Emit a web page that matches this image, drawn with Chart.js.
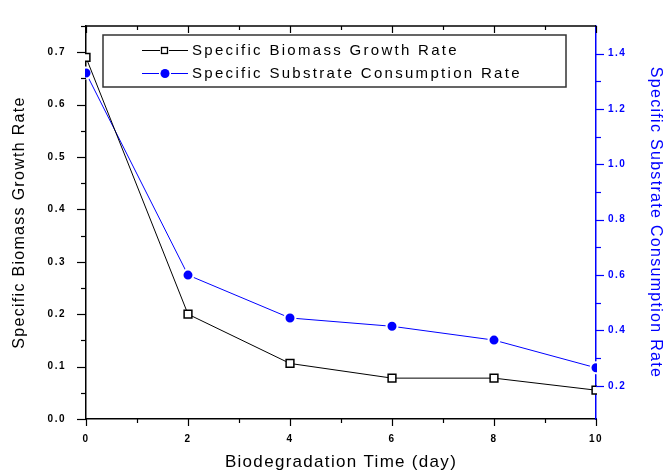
<!DOCTYPE html>
<html>
<head>
<meta charset="utf-8">
<script src="https://cdn.jsdelivr.net/npm/chart.js@4.4.1/dist/chart.umd.min.js"></script>
<style>
  html, body { margin: 0; padding: 0; background: #fff; }
  canvas { display: block; }
</style>
</head>
<body>
<canvas id="chart" width="664" height="471"></canvas>
<script>
// data
const DAYS = [0, 2, 4, 6, 8, 10];
const BIOMASS_RATE = [0.69, 0.20, 0.106, 0.078, 0.078, 0.055];
const SUBSTRATE_RATE = [1.33, 0.60, 0.445, 0.415, 0.365, 0.265];

// tick labels
const DAY_LABELS = ['0', '2', '4', '6', '8', '10'];
const LEFT_LABELS = ['0.0', '0.1', '0.2', '0.3', '0.4', '0.5', '0.6', '0.7'];
const RIGHT_LABELS = ['0.2', '0.4', '0.6', '0.8', '1.0', '1.2', '1.4'];

const BIOMASS_NAME = 'Specific Biomass Growth Rate';
const SUBSTRATE_NAME = 'Specific Substrate Consumption Rate';
const X_TITLE = 'Biodegradation Time (day)';

const BLUE = 'rgb(0,0,255)';
const FONT = "'Liberation Sans', Arial, sans-serif";

// labelled ticks plus one unlabelled tick halfway to the next
const withMinor = (labels, step, max) => {
    let ticks = [];
    labels.forEach((text) => {
        const v = parseFloat(text);
        ticks.push({ value: v, main: true, text: text });
        if (v + step / 2 <= max + 1e-9) {
            ticks.push({ value: +(v + step / 2).toFixed(4), main: false, text: '' });
        }
    });
    return ticks;
}

const tickLabel = (value, index, ticks) => ticks[index].main ? ticks[index].text : '';

// Origin draws its text rather wide, so add some letter spacing
const spacing = {
    id: 'spacing',
    beforeDraw(chart) {
        Object.values(chart.scales).forEach((s) => {
            if (s._spaced) return;
            s._spaced = true;
            const labels = s.drawLabels;
            const title = s.drawTitle;
            s.drawLabels = function (area) {
                this.ctx.letterSpacing = '1.5px';
                labels.call(this, area);
                this.ctx.letterSpacing = '0px';
            };
            s.drawTitle = function () {
                this.ctx.letterSpacing = '1.3px';
                title.call(this);
                this.ctx.letterSpacing = '0px';
            };
        });
    }
}

// tick marks (short for the unlabelled ones) and the top frame line
const frame = {
    id: 'frame',
    afterDraw(chart) {
        const { ctx, chartArea: a, scales } = chart;
        ctx.save();
        ctx.lineWidth = 1.5;
        ctx.strokeStyle = '#000';
        ctx.beginPath();
        ctx.moveTo(a.left, a.top);
        ctx.lineTo(a.right, a.top);
        ctx.stroke();

        ctx.lineWidth = 1.2;
        scales.x.ticks.forEach((t) => {
            const px = Math.round(scales.x.getPixelForValue(t.value)) + 0.5;
            const len = t.main ? 7 : 4;
            ctx.beginPath();
            ctx.moveTo(px, a.bottom);
            ctx.lineTo(px, a.bottom + len);
            ctx.moveTo(px, a.top);
            ctx.lineTo(px, a.top + len);
            ctx.stroke();
        });
        scales.y.ticks.forEach((t) => {
            const py = Math.round(scales.y.getPixelForValue(t.value)) + 0.5;
            ctx.beginPath();
            ctx.moveTo(a.left, py);
            ctx.lineTo(a.left - (t.main ? 9 : 5), py);
            ctx.stroke();
        });
        ctx.strokeStyle = BLUE;
        scales.y1.ticks.forEach((t) => {
            const py = Math.round(scales.y1.getPixelForValue(t.value)) + 0.5;
            ctx.beginPath();
            ctx.moveTo(a.right, py);
            ctx.lineTo(a.right + (t.main ? 8 : 5), py);
            ctx.stroke();
        });
        ctx.restore();
    }
}

// boxed legend inside the plot, as in the original
const boxLegend = {
    id: 'boxLegend',
    afterDraw(chart) {
        const ctx = chart.ctx;
        ctx.save();
        ctx.lineWidth = 1.5;
        ctx.strokeStyle = '#333';
        ctx.strokeRect(103, 35, 463, 52);

        const rows = [50, 73];
        chart.data.datasets.forEach((ds, i) => {
            const y = rows[i];
            ctx.strokeStyle = ds.borderColor;
            ctx.lineWidth = 1;
            ctx.beginPath();
            ctx.moveTo(142, y + 0.5);
            ctx.lineTo(188, y + 0.5);
            ctx.stroke();
            if (ds.pointStyle === 'rect') {
                ctx.fillStyle = '#fff';
                ctx.fillRect(160, y - 3, 9, 8);
                ctx.lineWidth = 1.3;
                ctx.strokeStyle = '#000';
                ctx.strokeRect(161.5, y - 2.5, 6, 6);
            } else {
                ctx.fillStyle = '#fff';
                ctx.fillRect(159, y - 6, 12, 13);
                ctx.fillStyle = BLUE;
                ctx.beginPath();
                ctx.arc(165, y + 0.5, 4.5, 0, Math.PI * 2);
                ctx.fill();
            }
            ctx.fillStyle = '#000';
            ctx.font = '15px ' + FONT;
            ctx.letterSpacing = '2.3px';
            ctx.textBaseline = 'middle';
            ctx.fillText(ds.label, 192, y + 1);
            ctx.letterSpacing = '0px';
        });
        ctx.restore();
    }
}

const ctx = document.getElementById('chart').getContext('2d');
const chart = new Chart(ctx, {
    type: 'line',
    data: {
        labels: DAYS,
        datasets: [
            {
                label: BIOMASS_NAME,
                data: DAYS.map((d, i) => ({ x: d, y: BIOMASS_RATE[i] })),
                yAxisID: 'y',
                borderColor: '#000',
                borderWidth: 1,
                pointStyle: 'rect',
                pointRadius: 5.5,
                pointBorderWidth: 1.5,
                pointBackgroundColor: '#fff',
                pointBorderColor: '#000',
                backgroundColor: '#fff',
                tension: 0,
                clip: 1
            },
            {
                label: SUBSTRATE_NAME,
                data: DAYS.map((d, i) => ({ x: d, y: SUBSTRATE_RATE[i] })),
                yAxisID: 'y1',
                borderColor: BLUE,
                borderWidth: 1,
                pointStyle: 'circle',
                pointRadius: 5.5,
                pointBorderWidth: 2,
                pointBorderColor: '#fff',
                pointBackgroundColor: BLUE,
                backgroundColor: BLUE,
                tension: 0,
                clip: 1
            }
        ]
    },
    options: {
        responsive: false,
        animation: false,
        devicePixelRatio: 1,
        layout: { padding: { top: 15, left: 0, right: 0, bottom: 0 } },
        plugins: {
            legend: { display: false },
            tooltip: { enabled: false }
        },
        scales: {
            x: {
                type: 'linear',
                min: 0,
                max: 10,
                afterBuildTicks: (s) => { s.ticks = withMinor(DAY_LABELS, 2, 10); },
                afterFit: (s) => { s.height = 52; },
                grid: { display: false, drawTicks: false },
                border: { display: true, color: '#000', width: 1.5 },
                ticks: {
                    autoSkip: false,
                    maxRotation: 0,
                    padding: 14,
                    color: '#000',
                    font: { family: FONT, size: 10, weight: 'bold' },
                    callback: tickLabel
                },
                title: {
                    display: true,
                    text: X_TITLE,
                    color: '#000',
                    font: { family: FONT, size: 17, lineHeight: 1 },
                    padding: { top: 0, bottom: 0 }
                }
            },
            y: {
                position: 'left',
                min: 0,
                max: 0.75,
                afterBuildTicks: (s) => { s.ticks = withMinor(LEFT_LABELS, 0.1, 0.75); },
                afterFit: (s) => { s.width = 86; },
                grid: { display: false, drawTicks: false },
                border: { display: true, color: '#000', width: 1.5 },
                ticks: {
                    autoSkip: false,
                    padding: 20,
                    color: '#000',
                    font: { family: FONT, size: 10, weight: 'bold' },
                    callback: tickLabel
                },
                title: {
                    display: true,
                    text: BIOMASS_NAME,
                    color: '#000',
                    font: { family: FONT, size: 16, lineHeight: 1 },
                    padding: { top: 12, bottom: 0 }
                }
            },
            y1: {
                position: 'right',
                min: 0.08,
                max: 1.5,
                afterBuildTicks: (s) => { s.ticks = withMinor(RIGHT_LABELS, 0.2, 1.4); },
                afterFit: (s) => { s.width = 68; },
                grid: { display: false, drawTicks: false },
                border: { display: true, color: BLUE, width: 1.5 },
                ticks: {
                    autoSkip: false,
                    padding: 12,
                    color: BLUE,
                    font: { family: FONT, size: 10, weight: 'bold' },
                    callback: tickLabel
                },
                title: {
                    display: true,
                    text: SUBSTRATE_NAME,
                    color: BLUE,
                    font: { family: FONT, size: 16, lineHeight: 1 },
                    padding: { top: 1, bottom: 0 }
                }
            }
        }
    },
    plugins: [spacing, frame, boxLegend]
});
</script>
</body>
</html>
